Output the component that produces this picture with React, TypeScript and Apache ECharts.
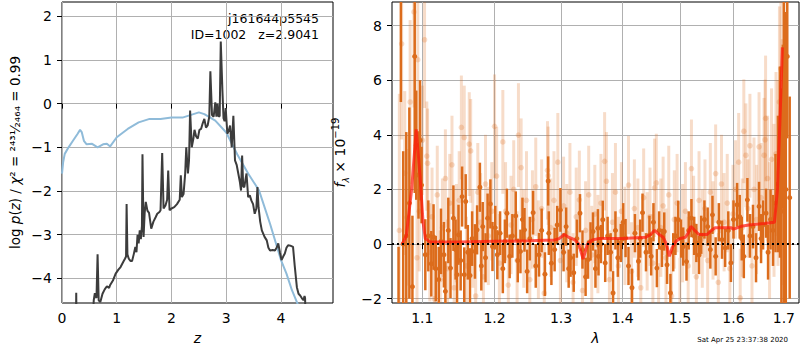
import React, { useEffect, useRef } from "react";
import * as echarts from "echarts";

// ---------- Left panel: p(z) ----------
const zLogp = [0.255, 0.26, 0.265, 0.56, 0.58, 0.6, 0.63, 0.65, 0.67, 0.7, 0.74, 0.78, 0.82, 0.86, 0.88, 0.93, 0.98, 1.03, 1.07, 1.12, 1.15, 1.17, 1.18, 1.195, 1.22, 1.25, 1.28, 1.31, 1.34, 1.36, 1.38, 1.4, 1.42, 1.44, 1.46, 1.47, 1.49, 1.51, 1.53, 1.56, 1.59, 1.63, 1.67, 1.71, 1.74, 1.78, 1.8, 1.83, 1.855, 1.89, 1.92, 1.94, 1.965, 2.0, 2.05, 2.1, 2.15, 2.17, 2.19, 2.22, 2.25, 2.27, 2.3, 2.32, 2.34, 2.37, 2.4, 2.42, 2.45, 2.48, 2.51, 2.54, 2.57, 2.6, 2.63, 2.66, 2.69, 2.71, 2.74, 2.77, 2.8, 2.82, 2.84, 2.86, 2.88, 2.9, 2.93, 2.95, 2.97, 2.99, 3.02, 3.05, 3.07, 3.1, 3.13, 3.16, 3.19, 3.22, 3.25, 3.27, 3.29, 3.31, 3.33, 3.35, 3.37, 3.4, 3.43, 3.46, 3.49, 3.52, 3.55, 3.57, 3.59, 3.62, 3.65, 3.7, 3.74, 3.77, 3.8, 3.85, 3.89, 3.92, 3.95, 3.98, 4.01, 4.04, 4.07, 4.1, 4.13, 4.17, 4.22, 4.25, 4.29, 4.32, 4.35, 4.38, 4.41, 4.43, 4.44, 4.45];
const vLogp = [-5.0, -4.33, -5.0, -5.0, -4.5, -4.34, -4.45, -3.45, -4.5, -4.54, -4.35, -4.25, -4.18, -4.22, -4.15, -4.05, -3.89, -3.8, -3.74, -3.62, -3.55, -3.5, -2.3, -3.45, -3.55, -3.6, -3.6, -3.45, -3.28, -3.4, -3.0, -3.2, -2.9, -3.1, -2.8, -1.16, -3.05, -2.5, -2.25, -2.45, -2.5, -2.86, -2.7, -2.6, -2.52, -2.48, -2.44, -1.13, -2.4, -2.33, -2.2, -1.53, -2.44, -2.4, -2.37, -2.3, -2.2, -1.64, -2.14, -2.07, -1.6, -1.0, -1.6, -1.3, -0.16, -1.0, -0.8, -0.6, -0.75, -0.8, -0.6, -0.58, -0.45, -0.35, -0.55, -0.5, -0.3, 0.74, -0.26, -0.3, 0.03, -0.3, 0.0, -0.3, -0.28, 1.42, 0.3, -0.33, -0.4, -0.1, -0.69, -0.6, -0.5, -1.0, -0.28, -1.3, -1.4, -1.6, -1.8, -1.99, -1.19, -1.9, -1.91, -1.75, -1.6, -2.14, -2.1, -2.22, -2.3, -2.52, -2.4, -1.91, -2.37, -2.7, -2.9, -3.05, -3.13, -3.3, -3.36, -3.35, -3.36, -3.3, -3.2, -3.4, -3.58, -3.5, -3.43, -3.3, -3.24, -3.25, -3.28, -3.7, -4.2, -4.35, -4.39, -4.45, -4.5, -4.4, -4.45, -5.0];

const zChi = [0.0, 0.02, 0.05, 0.12, 0.2, 0.28, 0.33, 0.36, 0.4, 0.45, 0.55, 0.65, 0.75, 0.82, 0.88, 1.0, 1.2, 1.4, 1.6, 1.8, 2.0, 2.2, 2.4, 2.5, 2.6, 2.8, 3.0, 3.2, 3.4, 3.6, 3.8, 4.0, 4.1, 4.2, 4.3, 4.35];
const vChi = [-1.6, -1.35, -1.15, -1.0, -0.85, -0.7, -0.6, -0.65, -0.85, -0.93, -0.92, -1.0, -0.93, -0.92, -0.98, -0.77, -0.58, -0.43, -0.35, -0.35, -0.32, -0.32, -0.24, -0.2, -0.24, -0.39, -0.66, -1.16, -1.6, -1.99, -2.75, -3.58, -3.89, -4.27, -4.57, -4.8];

const zTicks = [0, 1, 2, 3, 4];
const logpTicks = [-4, -3, -2, -1, 0, 1, 2];

// ---------- Right panel: spectrum ----------
const darkLam = [1.069, 1.072, 1.075, 1.079, 1.083, 1.087, 1.09, 1.092, 1.095, 1.097, 1.099, 1.104, 1.108, 1.112, 1.115, 1.118, 1.122, 1.125, 1.129, 1.131, 1.135, 1.138, 1.142, 1.145, 1.147, 1.149, 1.152, 1.154, 1.157, 1.159, 1.162, 1.165, 1.168, 1.172, 1.175, 1.179, 1.181, 1.183, 1.187, 1.19, 1.194, 1.197, 1.201, 1.204, 1.208, 1.212, 1.215, 1.218, 1.222, 1.226, 1.231, 1.234, 1.238, 1.241, 1.244, 1.248, 1.252, 1.257, 1.261, 1.266, 1.27, 1.275, 1.28, 1.281, 1.285, 1.29, 1.294, 1.299, 1.304, 1.308, 1.312, 1.315, 1.32, 1.325, 1.33, 1.334, 1.339, 1.343, 1.347, 1.351, 1.355, 1.359, 1.36, 1.364, 1.367, 1.371, 1.375, 1.38, 1.384, 1.388, 1.392, 1.397, 1.401, 1.405, 1.41, 1.416, 1.421, 1.427, 1.43, 1.434, 1.44, 1.446, 1.449, 1.453, 1.459, 1.463, 1.468, 1.472, 1.477, 1.483, 1.488, 1.492, 1.497, 1.502, 1.506, 1.512, 1.516, 1.521, 1.526, 1.53, 1.535, 1.539, 1.545, 1.551, 1.556, 1.56, 1.566, 1.572, 1.578, 1.584, 1.59, 1.595, 1.6, 1.607, 1.612, 1.616, 1.62, 1.627, 1.632, 1.638, 1.644, 1.65, 1.654, 1.658, 1.664, 1.668, 1.673, 1.678, 1.683, 1.688, 1.692, 1.695, 1.698, 1.7, 1.704, 1.707, 1.712];
const darkVal = [-2.6, 9.3, 0.0, 0.3, 1.5, -1.56, 6.87, 3.62, 2.53, 3.8, 2.16, -0.39, 0.3, -0.72, 0.26, -0.9, -1.3, 0.1, -0.39, -1.73, 0.5, -0.88, 0.95, -0.2, -1.12, 0.34, -0.6, 1.74, -1.12, 1.56, -0.3, -1.15, 0.2, -0.27, 0.52, 2.08, -0.8, 0.64, -0.5, 0.95, 1.47, -0.09, 0.6, -0.39, 0.4, -0.9, 0.1, 1.13, -0.45, 0.3, 1.03, -0.6, -0.27, 0.9, 0.52, -1.0, 0.2, 1.15, -0.8, -0.39, 0.5, -1.1, 2.31, 0.4, -0.7, -0.2, 0.7, 1.25, -0.3, 0.64, -0.9, -0.5, -1.05, 0.2, 1.13, -0.2, -1.2, -0.57, 0.1, 0.46, -0.9, 0.58, -0.45, 0.0, 0.89, -0.69, 0.3, -0.3, -1.79, 0.5, -0.5, 0.04, 0.8, 0.22, -0.8, -1.6, 0.4, -0.63, 0.2, 1.15, -0.3, 0.34, -0.45, 0.8, -0.88, 0.5, -0.14, 0.46, -0.76, -1.79, -0.3, 0.3, 0.89, 0.2, -0.09, -0.64, 0.5, 0.95, 0.3, 0.04, -0.4, 0.34, 0.9, 0.64, -0.2, 1.07, -0.45, 0.8, 0.16, -0.14, 0.5, -0.69, 0.9, 1.44, 1.0, 0.2, -0.45, 1.62, 0.3, 0.64, -0.5, 1.38, 0.2, 0.7, 1.13, -0.3, 0.9, 0.5, 1.5, 2.2, 3.0, 1.2, 4.3, 3.56, 2.0, 6.87, 1.7];
const darkErr = [2.5, 4.1, 3.4, 3.8, 3.5, 2.6, 5.0, 2.0, 1.6, 2.2, 1.4, 1.3, 1.3, 1.2, 1.2, 1.2, 1.2, 1.2, 1.2, 1.1, 1.2, 1.1, 1.2, 1.1, 1.1, 1.1, 1.1, 1.1, 1.0, 1.0, 1.0, 1.0, 1.0, 1.0, 0.9, 0.9, 0.9, 0.9, 0.9, 0.9, 0.9, 0.9, 0.8, 0.9, 0.8, 0.9, 0.8, 0.9, 0.8, 0.8, 0.9, 0.8, 0.8, 0.8, 0.8, 0.8, 0.8, 0.8, 0.8, 0.8, 0.8, 0.8, 0.9, 0.8, 0.8, 0.8, 0.7, 0.8, 0.7, 0.7, 0.7, 0.7, 0.7, 0.7, 0.7, 0.7, 0.7, 0.7, 0.7, 0.7, 0.7, 0.7, 0.7, 0.7, 0.7, 0.7, 0.7, 0.7, 0.8, 0.7, 0.7, 0.7, 0.7, 0.7, 0.7, 0.7, 0.7, 0.7, 0.7, 0.7, 0.7, 0.7, 0.7, 0.7, 0.7, 0.7, 0.7, 0.7, 0.7, 0.7, 0.7, 0.7, 0.7, 0.7, 0.7, 0.7, 0.7, 0.7, 0.7, 0.7, 0.7, 0.7, 0.7, 0.7, 0.7, 0.7, 0.7, 0.7, 0.7, 0.7, 0.7, 0.7, 0.7, 0.8, 0.8, 0.8, 0.8, 0.8, 0.8, 0.8, 0.9, 0.9, 0.9, 0.9, 0.9, 1.0, 1.1, 1.3, 1.8, 2.5, 3.5, 4.5, 3.0, 6.0, 6.5, 3.0, 3.7];

const lightLam = [1.07, 1.073, 1.077, 1.08, 1.084, 1.089, 1.093, 1.094, 1.096, 1.1, 1.103, 1.106, 1.107, 1.11, 1.113, 1.116, 1.12, 1.124, 1.127, 1.131, 1.134, 1.137, 1.14, 1.143, 1.146, 1.15, 1.153, 1.157, 1.16, 1.164, 1.166, 1.169, 1.173, 1.176, 1.18, 1.184, 1.187, 1.191, 1.196, 1.2, 1.203, 1.207, 1.212, 1.216, 1.22, 1.224, 1.228, 1.233, 1.235, 1.239, 1.243, 1.247, 1.252, 1.256, 1.261, 1.265, 1.27, 1.274, 1.279, 1.28, 1.284, 1.289, 1.295, 1.299, 1.304, 1.309, 1.314, 1.319, 1.324, 1.329, 1.334, 1.339, 1.344, 1.349, 1.354, 1.359, 1.364, 1.37, 1.373, 1.378, 1.383, 1.388, 1.393, 1.398, 1.404, 1.41, 1.415, 1.42, 1.426, 1.431, 1.436, 1.442, 1.447, 1.452, 1.455, 1.458, 1.462, 1.466, 1.47, 1.475, 1.48, 1.485, 1.49, 1.495, 1.5, 1.505, 1.51, 1.515, 1.521, 1.525, 1.53, 1.535, 1.541, 1.546, 1.551, 1.556, 1.561, 1.566, 1.571, 1.577, 1.582, 1.588, 1.593, 1.599, 1.604, 1.61, 1.613, 1.617, 1.62, 1.624, 1.628, 1.632, 1.636, 1.64, 1.645, 1.65, 1.654, 1.66, 1.662, 1.663, 1.667, 1.671, 1.675, 1.68, 1.684, 1.688, 1.691, 1.694, 1.697, 1.7];
const lightVal = [0.5, 7.33, 2.6, 0.98, 5.2, 8.5, -0.5, 6.75, 1.2, 3.8, 7.48, 3.22, 2.96, -0.3, 1.0, -2.0, 1.8, -1.3, 0.6, 2.4, -0.9, 1.5, 2.9, -1.6, 0.4, 1.6, 4.27, 3.9, -0.8, 3.66, 3.41, 0.2, -1.9, 1.9, 0.8, -1.2, 2.2, 0.3, 1.2, 4.31, 2.49, -0.7, 3.74, 1.2, -1.5, 0.7, 2.0, -0.6, 3.99, 2.8, 0.2, 1.6, -1.3, 0.9, 2.1, -0.2, 1.3, -1.8, 2.7, 2.5, 0.6, 1.6, 3.0, -0.6, 1.4, 0.4, 1.9, -1.4, 1.0, 1.62, -1.7, 0.5, 1.8, -0.4, 1.1, 0.0, 1.5, 3.03, 2.3, -1.3, 0.8, 1.9, -0.8, 1.2, 0.3, 2.16, -1.0, 1.3, 0.6, -1.6, 1.7, 0.1, 1.0, -0.7, 2.06, 2.24, -2.5, 0.6, 1.4, -0.5, 1.8, -1.9, 0.9, 1.5, -2.3, 0.4, 1.2, -0.8, 2.76, 0.7, -1.2, 1.6, 0.2, 1.3, -0.6, 1.9, 0.5, 2.58, -1.4, 2.2, 0.8, 1.5, -0.9, 1.1, 2.0, 3.0, -1.97, 0.6, 4.13, 3.25, 1.3, 3.6, -0.8, 2.0, 0.9, 3.56, 1.7, 3.25, 3.82, 4.6, 2.4, 0.5, 3.1, 1.6, 3.3, 2.6, 5.2, 6.42, 3.0, 5.5];
const lightErr = [5.0, 3.5, 3.0, 2.5, 3.0, 3.5, 2.5, 3.0, 2.2, 2.0, 2.5, 2.0, 2.0, 1.8, 1.8, 1.8, 1.8, 1.8, 1.8, 1.8, 1.8, 1.8, 1.8, 1.8, 1.8, 1.8, 1.9, 1.9, 1.8, 1.9, 1.9, 1.8, 1.8, 1.8, 1.8, 1.8, 1.8, 1.8, 1.8, 1.9, 1.8, 1.8, 1.9, 1.8, 1.8, 1.8, 1.8, 1.8, 1.9, 1.8, 1.8, 1.8, 1.8, 1.8, 1.8, 1.8, 1.8, 1.8, 1.8, 1.8, 1.8, 1.8, 1.8, 1.8, 1.8, 1.8, 1.8, 1.8, 1.8, 1.8, 1.8, 1.8, 1.8, 1.8, 1.8, 1.8, 1.8, 1.8, 1.8, 1.8, 1.8, 1.8, 1.8, 1.8, 1.8, 1.8, 1.8, 1.8, 1.8, 1.8, 1.8, 1.8, 1.8, 1.8, 1.8, 1.8, 1.8, 1.8, 1.8, 1.8, 1.8, 1.8, 1.8, 1.8, 1.8, 1.8, 1.8, 1.8, 1.8, 1.8, 1.8, 1.8, 1.8, 1.8, 1.8, 1.8, 1.8, 1.8, 1.8, 1.8, 1.8, 1.8, 1.8, 1.8, 1.8, 1.8, 1.8, 1.8, 1.9, 1.9, 1.8, 1.9, 1.9, 1.9, 2.0, 2.0, 2.0, 2.1, 2.2, 2.3, 2.3, 2.5, 2.6, 2.8, 3.0, 3.4, 3.5, 4.0, 4.5, 4.5];

const modelLam = [1.0735, 1.079, 1.086, 1.092, 1.097, 1.101, 1.104, 1.11, 1.15, 1.2, 1.25, 1.29, 1.297, 1.305, 1.312, 1.322, 1.328, 1.335, 1.342, 1.35, 1.36, 1.4, 1.44, 1.448, 1.455, 1.463, 1.47, 1.476, 1.481, 1.487, 1.493, 1.5, 1.51, 1.515, 1.52, 1.527, 1.535, 1.55, 1.558, 1.565, 1.58, 1.595, 1.6, 1.615, 1.63, 1.66, 1.681, 1.687, 1.692, 1.697];
const modelVal = [0.0, 0.3, 2.0, 4.2, 2.5, 0.8, 0.2, 0.08, 0.08, 0.1, 0.12, 0.15, 0.2, 0.35, 0.25, 0.15, 0.0, -0.55, 0.0, 0.15, 0.2, 0.2, 0.25, 0.35, 0.5, 0.35, 0.25, 0.0, -0.45, -0.1, 0.1, 0.2, 0.25, 0.4, 0.65, 0.5, 0.35, 0.35, 0.5, 0.6, 0.6, 0.6, 0.55, 0.65, 0.7, 0.75, 0.8, 2.0, 4.5, 7.2];

const lamTicks = [1.1, 1.2, 1.3, 1.4, 1.5, 1.6, 1.7];
const fluxTicks = [-2, 0, 2, 4, 6, 8];

const FONT = "DejaVu Sans";
const minus = (v: number, d = 0) => v.toFixed(d).replace("-", "\u2212");

function errRender(color: string, barW: number, r: number) {
  return (params: any, api: any) => {
    const x = api.value(0);
    const y = api.value(1);
    const e = api.value(2);
    const top = api.coord([x, y + e]);
    const bot = api.coord([x, y - e]);
    const c = api.coord([x, y]);
    const cs = params.coordSys;
    const y0 = Math.max(cs.y, top[1]);
    const y1 = Math.min(cs.y + cs.height, bot[1]);
    const children: any[] = [];
    if (y1 > y0) {
      children.push({
        type: "line",
        shape: { x1: c[0], y1: y0, x2: c[0], y2: y1 },
        style: { stroke: color, lineWidth: barW },
      });
    }
    if (c[1] >= cs.y && c[1] <= cs.y + cs.height) {
      children.push({ type: "circle", shape: { cx: c[0], cy: c[1], r }, style: { fill: color } });
    }
    return { type: "group", children };
  };
}

export default function App() {
  const ref = useRef<HTMLDivElement>(null);
  useEffect(() => {
    if (!ref.current) return;
    const chart = echarts.init(ref.current, undefined, { renderer: "svg" });
    const lg = (v: number) => Math.log10(v);
    const axisCommon = {
      axisLine: { show: false },
      axisTick: { show: true, inside: false, length: 5, lineStyle: { color: "#000", width: 1 } },
      splitLine: { show: true, lineStyle: { color: "#b0b0b0", width: 1 } },
    };
    const labelStyle = { color: "#000", fontSize: 14, fontFamily: FONT };

    const option: any = {
      animation: false,
      backgroundColor: "#fff",
      grid: [
        { left: 62, top: 2, width: 271, height: 302, show: true, borderColor: "#000", borderWidth: 1, backgroundColor: "transparent" },
        { left: 392, top: 2, width: 407, height: 301, show: true, borderColor: "#000", borderWidth: 1, backgroundColor: "transparent" },
      ],
      xAxis: [
        {
          type: "value", gridIndex: 0, min: 0, max: 4.95,
          ...axisCommon,
          axisTick: { ...axisCommon.axisTick, customValues: zTicks },
          axisLabel: { ...labelStyle, margin: 8, customValues: zTicks, formatter: (v: number) => minus(v) },
          name: "z", nameLocation: "middle", nameGap: 28,
          nameTextStyle: { color: "#000", fontSize: 14, fontFamily: FONT, fontStyle: "italic" },
        },
        {
          type: "value", gridIndex: 1, min: lg(1.0606), max: lg(1.7313),
          ...axisCommon,
          axisTick: { ...axisCommon.axisTick, customValues: lamTicks.map(lg) },
          axisLabel: { ...labelStyle, margin: 8, customValues: lamTicks.map(lg), formatter: (v: number) => Math.pow(10, v).toFixed(1) },
          name: "λ", nameLocation: "middle", nameGap: 28,
          nameTextStyle: { color: "#000", fontSize: 14, fontFamily: FONT, fontStyle: "italic" },
        },
      ],
      yAxis: [
        {
          type: "value", gridIndex: 0, min: -4.563, max: 2.326,
          ...axisCommon,
          axisTick: { ...axisCommon.axisTick, customValues: logpTicks },
          axisLabel: { ...labelStyle, margin: 10, customValues: logpTicks, formatter: (v: number) => minus(v) },
          name: "log {i|p}({i|z}) / {i|χ}² = ²⁴³¹⁄₂₄₆₄ = 0.99",
          nameLocation: "middle", nameGap: 40,
          nameTextStyle: { color: "#000", fontSize: 13.5, fontFamily: FONT, rich: { i: { fontStyle: "italic", fontSize: 13.5, fontFamily: FONT, color: "#000" } } },
        },
        {
          type: "value", gridIndex: 1, min: -2.157, max: 8.862,
          ...axisCommon,
          axisTick: { ...axisCommon.axisTick, customValues: fluxTicks },
          axisLabel: { ...labelStyle, margin: 10, customValues: fluxTicks, formatter: (v: number) => minus(v) },
          name: "{i|f}{sub|λ} × 10{sup|−19}",
          nameLocation: "middle", nameGap: 40,
          nameTextStyle: {
            color: "#000", fontSize: 14, fontFamily: FONT,
            rich: {
              i: { fontStyle: "italic", fontSize: 14, fontFamily: FONT, color: "#000", lineHeight: 20 },
              sub: { fontStyle: "italic", fontSize: 9, fontFamily: FONT, color: "#000", verticalAlign: "bottom", lineHeight: 20 },
              sup: { fontSize: 10, fontFamily: FONT, color: "#000", verticalAlign: "top", lineHeight: 20 },
            },
          },
        },
      ],
      series: [
        {
          type: "line", xAxisIndex: 0, yAxisIndex: 0, symbol: "none", clip: true,
          data: zChi.map((z, i) => [z, vChi[i]]),
          lineStyle: { color: "#8fbbd9", width: 2 }, z: 2,
        },
        {
          type: "line", xAxisIndex: 0, yAxisIndex: 0, symbol: "none", clip: true,
          data: zLogp.map((z, i) => [z, vLogp[i]]),
          lineStyle: { color: "#3c3c3c", width: 2 }, z: 3,
        },
        {
          type: "custom", xAxisIndex: 1, yAxisIndex: 1, clip: true,
          renderItem: errRender("rgba(222,110,30,0.24)", 3, 2.8),
          encode: { x: 0, y: 1 },
          data: lightLam.map((l, i) => [lg(l), lightVal[i], lightErr[i]]),
          z: 2,
        },
        {
          type: "custom", xAxisIndex: 1, yAxisIndex: 1, clip: true,
          renderItem: errRender("#dc6c1c", 2.5, 2.5),
          encode: { x: 0, y: 1 },
          data: darkLam.map((l, i) => [lg(l), darkVal[i], darkErr[i]]),
          z: 3,
        },
        {
          type: "line", xAxisIndex: 1, yAxisIndex: 1, symbol: "none", clip: true,
          data: modelLam.map((l, i) => [lg(l), modelVal[i]]),
          lineStyle: { color: "rgba(255,20,10,0.7)", width: 3 }, z: 4,
        },
        {
          type: "line", xAxisIndex: 1, yAxisIndex: 1, symbol: "none", data: [],
          z: 5,
          markLine: {
            silent: true, symbol: "none", label: { show: false },
            lineStyle: { color: "#000", type: [2, 3], width: 2 },
            data: [{ yAxis: 0 }],
          },
        },
      ],
      graphic: [
        { type: "text", right: 800 - 319, top: 12, style: { text: "j161644p5545", fontSize: 12.5, fontFamily: FONT, fill: "#000", textAlign: "right" } },
        { type: "text", right: 800 - 319, top: 28, style: { text: "ID=1002   z=2.9041", fontSize: 12.5, fontFamily: FONT, fill: "#000", textAlign: "right" } },
        { type: "text", right: 12, top: 336, style: { text: "Sat Apr 25 23:37:38 2020", fontSize: 7, fontFamily: FONT, fill: "#000" } },
      ],
    };
    chart.setOption(option);
    return () => chart.dispose();
  }, []);
  return <div ref={ref} style={{ position: "absolute", left: 0, top: 0, width: 800, height: 350 }} />;
}
